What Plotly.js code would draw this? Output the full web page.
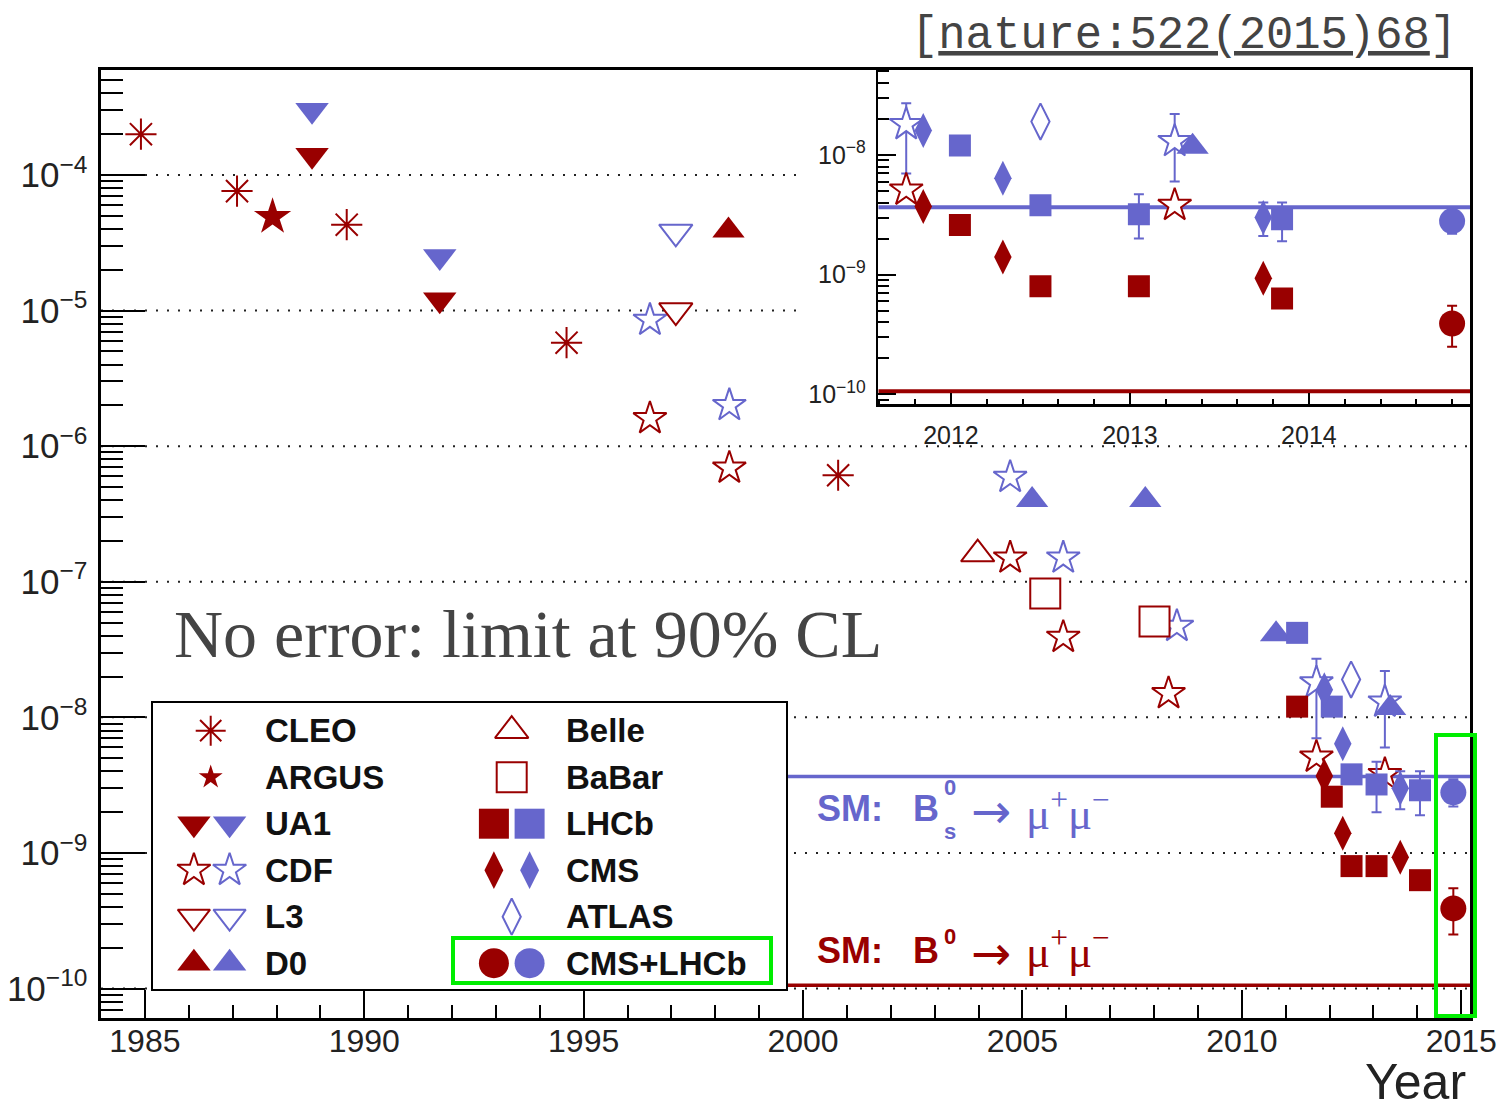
<!DOCTYPE html>
<html>
<head>
<meta charset="utf-8">
<script src="https://cdn.plot.ly/plotly-3.0.1.min.js"></script>
<style>html,body{margin:0;padding:0;background:#fff}#chart{width:1499px;height:1111px}</style>
</head>
<body>
<div id="chart"></div>
<script>
// ---------------- data (years, branching-fraction limits / measurements) ----------------
const cleoYear = [1984.91, 1987.10, 1989.60, 1994.61, 2000.80];
const cleoB0   = [2.0e-4, 7.6e-5, 4.3e-5, 5.8e-6, 6.1e-7];

const argusYear = [1987.91];
const argusB0   = [4.9e-5];

const ua1Year = [1988.81, 1991.72];
const ua1Bs   = [3.0e-4, 2.5e-5];
const ua1B0   = [1.4e-4, 1.2e-5];

const cdfYearBs  = [1996.51, 1998.32, 2004.72, 2005.93, 2008.52, 2011.70, 2013.26];
const cdfBs      = [8.5e-6, 2.0e-6, 5.9e-7, 1.5e-7, 4.7e-8, 1.8e-8, 1.3e-8];
const cdfBsErrUp = [NaN, NaN, NaN, NaN, NaN, 0.9e-8, 0.9e-8];
const cdfBsErrDn = [NaN, NaN, NaN, NaN, NaN, 1.1e-8, 0.7e-8];
const cdfYearB0  = [1996.51, 1998.32, 2004.72, 2005.93, 2008.33, 2011.70, 2013.26];
const cdfB0      = [1.6e-6, 6.9e-7, 1.5e-7, 3.9e-8, 1.5e-8, 5.1e-9, 3.8e-9];

const l3Year = [1997.10];
const l3Bs   = [3.8e-5];
const l3B0   = [1.0e-5];

const d0YearB0 = [1998.30];
const d0B0     = [3.9e-5];
const d0YearBs = [2005.22, 2007.80, 2010.78, 2013.38];
const d0Bs     = [4.0e-7, 4.0e-7, 4.1e-8, 1.17e-8];

const belleYear = [2003.98];
const belleB0   = [1.6e-7];

const babarYear = [2005.52, 2008.01];
const babarB0   = [8.2e-8, 5.1e-8];

const lhcbYear    = [2011.26, 2012.05, 2012.50, 2013.07, 2014.06];
const lhcbBs      = [4.2e-8, 1.2e-8, 3.8e-9, 3.2e-9, 2.9e-9];
const lhcbBsErrUp = [NaN, NaN, NaN, 1.5e-9, 1.1e-9];
const lhcbBsErrDn = [NaN, NaN, NaN, 1.2e-9, 1.0e-9];
const lhcbB0      = [1.2e-8, 2.6e-9, 8.0e-10, 8.0e-10, 6.3e-10];

const cmsYear    = [2011.88, 2012.30, 2013.61];
const cmsBs      = [1.6e-8, 6.4e-9, 3.0e-9];
const cmsBsErrUp = [NaN, NaN, 1.0e-9];
const cmsBsErrDn = [NaN, NaN, 0.9e-9];
const cmsB0      = [3.7e-9, 1.4e-9, 9.3e-10];

const atlasYear = [2012.49];
const atlasBs   = [1.9e-8];

const combYear    = [2014.82];
const combBs      = [2.8e-9];
const combBsErrUp = [0.7e-9];
const combBsErrDn = [0.6e-9];
const combB0      = [3.9e-10];
const combB0ErrUp = [1.6e-10];
const combB0ErrDn = [1.4e-10];

// dates used in the zoomed inset (late 2011 onwards)
const insetCdfYear   = [2011.75, 2013.25];
const insetD0Year    = [2013.35];
const insetLhcbYear  = [2012.05, 2012.50, 2013.05, 2013.85];
const insetCmsYear   = [2011.845, 2012.29, 2013.745];
const insetAtlasYear = [2012.50];
const insetCombYear  = [2014.80];

// Standard Model predictions
const smBs = 3.66e-9;
const smB0 = 1.06e-10;

// legend
const legendLabels = ['CLEO','ARGUS','UA1','CDF','L3','D0','Belle','BaBar','LHCb','CMS','ATLAS','CMS+LHCb'];
const legendKeys   = ['cleo','argus','ua1','cdf','l3','d0','belle','babar','lhcb','cms','atlas','comb'];

// ---------------- styles / geometry ----------------
const W = 1499, H = 1111;
const RED = '#990000', BLUE = '#6666cc', GREEN = '#00ee00';
const legendColors = [[RED],[RED],[RED,BLUE],[RED,BLUE],[RED,BLUE],[RED,BLUE],[RED],[RED],[RED,BLUE],[RED,BLUE],[BLUE],[RED,BLUE]];

const ST = {
  cleo:  {sym:'asterisk-open', size:26, lsize:25},
  argus: {sym:'star', size:28, lsize:18},
  ua1:   {sym:'triangle-down', size:29, lsize:29},
  cdf:   {sym:'star', open:true, size:25, lsize:25},
  l3:    {sym:'triangle-down', open:true, size:29, lsize:28},
  d0:    {sym:'triangle-up', size:28, lsize:29},
  belle: {sym:'triangle-up', open:true, size:29, lsize:29},
  babar: {sym:'square', open:true, size:30, lsize:30},
  lhcb:  {sym:'square', size:22, lsize:30},
  cms:   {sym:'diamond-tall', size:25, lsize:27},
  atlas: {sym:'diamond-tall', open:true, size:26, lsize:26},
  comb:  {sym:'circle', size:26, lsize:30}
};

const MAIN  = {l:101, r:1470, t:70, b:1018, xRange:[1984.0, 2015.2], yRange:[-10.217, -3.226]};
const INSET = {l:878.3, r:1470, t:70, b:404.3, xRange:[2011.594, 2014.9], yRange:[-10.084, -7.29]};
const LEG   = {l:153, r:786, t:702.7, b:989};
const INSET_PAD_LEFT = 797;
const LEGX = [{single:210.7, pair:[193.9, 229.6], text:265.3},
              {single:511.7, pair:[493.9, 529.6], text:566.3}];
const LEG_ROW0 = 730.7, LEG_DY = 46.5;

const fx = p => p / W;
const fy = p => 1 - p / H;
const yearAtPx = p => MAIN.xRange[0] + (p - MAIN.l) / (MAIN.r - MAIN.l) * (MAIN.xRange[1] - MAIN.xRange[0]);

function mk(x, y, key, color, xa, ya, size, errUp, errDn) {
  const s = ST[key];
  let marker;
  if (s.sym === 'asterisk-open') {
    marker = {symbol:'asterisk-open', size:size, color:color, line:{color:color, width:2}};
  } else {
    marker = {symbol:s.sym, size:size, color:s.open ? '#ffffff' : color,
              line:{color:color, width:s.open ? 2 : 0}};
  }
  const t = {type:'scatter', mode:'markers', x:x, y:y, xaxis:xa, yaxis:ya,
             hoverinfo:'skip', marker:marker, showlegend:false};
  if (errUp) t.error_y = {type:'data', symmetric:false, array:errUp, arrayminus:errDn,
                          color:color, thickness:2, width:5};
  return t;
}

const traces = [];
// main panel
(function () {
  const xa = 'x', ya = 'y';
  const S = k => ST[k].size;
  traces.push(mk(cleoYear, cleoB0, 'cleo', RED, xa, ya, S('cleo')));
  traces.push(mk(argusYear, argusB0, 'argus', RED, xa, ya, S('argus')));
  traces.push(mk(ua1Year, ua1Bs, 'ua1', BLUE, xa, ya, S('ua1')));
  traces.push(mk(ua1Year, ua1B0, 'ua1', RED, xa, ya, S('ua1')));
  traces.push(mk(cdfYearBs, cdfBs, 'cdf', BLUE, xa, ya, S('cdf'), cdfBsErrUp, cdfBsErrDn));
  traces.push(mk(cdfYearB0, cdfB0, 'cdf', RED, xa, ya, S('cdf')));
  traces.push(mk(l3Year, l3Bs, 'l3', BLUE, xa, ya, S('l3')));
  traces.push(mk(l3Year, l3B0, 'l3', RED, xa, ya, S('l3')));
  traces.push(mk(d0YearB0, d0B0, 'd0', RED, xa, ya, S('d0')));
  traces.push(mk(d0YearBs, d0Bs, 'd0', BLUE, xa, ya, S('d0')));
  traces.push(mk(belleYear, belleB0, 'belle', RED, xa, ya, S('belle')));
  traces.push(mk(babarYear, babarB0, 'babar', RED, xa, ya, S('babar')));
  traces.push(mk(lhcbYear, lhcbBs, 'lhcb', BLUE, xa, ya, S('lhcb'), lhcbBsErrUp, lhcbBsErrDn));
  traces.push(mk(lhcbYear, lhcbB0, 'lhcb', RED, xa, ya, S('lhcb')));
  traces.push(mk(cmsYear, cmsBs, 'cms', BLUE, xa, ya, S('cms'), cmsBsErrUp, cmsBsErrDn));
  traces.push(mk(cmsYear, cmsB0, 'cms', RED, xa, ya, S('cms')));
  traces.push(mk(atlasYear, atlasBs, 'atlas', BLUE, xa, ya, S('atlas')));
  traces.push(mk(combYear, combBs, 'comb', BLUE, xa, ya, S('comb'), combBsErrUp, combBsErrDn));
  traces.push(mk(combYear, combB0, 'comb', RED, xa, ya, S('comb'), combB0ErrUp, combB0ErrDn));
})();

// inset panel
(function () {
  const xa = 'x2', ya = 'y2';
  const S = k => ST[k].size;
  const n = insetCdfYear.length, m = insetLhcbYear.length;
  traces.push(mk(insetCdfYear, cdfBs.slice(-n), 'cdf', BLUE, xa, ya, S('cdf'), cdfBsErrUp.slice(-n), cdfBsErrDn.slice(-n)));
  traces.push(mk(insetCdfYear, cdfB0.slice(-n), 'cdf', RED, xa, ya, S('cdf')));
  traces.push(mk(insetD0Year, d0Bs.slice(-insetD0Year.length), 'd0', BLUE, xa, ya, S('d0')));
  traces.push(mk(insetLhcbYear, lhcbBs.slice(-m), 'lhcb', BLUE, xa, ya, S('lhcb'), lhcbBsErrUp.slice(-m), lhcbBsErrDn.slice(-m)));
  traces.push(mk(insetLhcbYear, lhcbB0.slice(-m), 'lhcb', RED, xa, ya, S('lhcb')));
  traces.push(mk(insetCmsYear, cmsBs, 'cms', BLUE, xa, ya, S('cms'), cmsBsErrUp, cmsBsErrDn));
  traces.push(mk(insetCmsYear, cmsB0, 'cms', RED, xa, ya, S('cms')));
  traces.push(mk(insetAtlasYear, atlasBs, 'atlas', BLUE, xa, ya, S('atlas')));
  traces.push(mk(insetCombYear, combBs, 'comb', BLUE, xa, ya, S('comb'), combBsErrUp, combBsErrDn));
  traces.push(mk(insetCombYear, combB0, 'comb', RED, xa, ya, S('comb'), combB0ErrUp, combB0ErrDn));
})();

const SANS = 'Liberation Sans, Arial, Helvetica, sans-serif';
const SERIF = 'Liberation Serif, Times New Roman, serif';
const MONO = 'Liberation Mono, Courier New, monospace';

const annotations = [];
// legend
legendKeys.forEach((k, i) => {
  const col = i < 6 ? 0 : 1, row = i % 6;
  const yy = LEG_ROW0 + LEG_DY * row;
  const cols = legendColors[i];
  cols.forEach((c, j) => {
    const xx = cols.length === 1 ? LEGX[col].single : LEGX[col].pair[j];
    traces.push(mk([xx], [yy], k, c, 'x3', 'y3', ST[k].lsize));
  });
  annotations.push({xref:'x3', yref:'y3', x:LEGX[col].text - 2, y:yy, text:legendLabels[i],
    showarrow:false, xanchor:'left', yanchor:'middle',
    font:{family:SANS, size:33, color:'#111', weight:'bold'}});
});

// texts
function ann(x, y, text, font, xanchor) {
  annotations.push({xref:'paper', yref:'paper', x:fx(x), y:fy(y), text:text, showarrow:false,
    xanchor:xanchor || 'left', yanchor:'middle', font:font});
}
ann(1184, 36, '[<u>nature:522(2015)68</u>]', {family:MONO, size:45.5, color:'#444'}, 'center');
ann(172, 634, 'No error: limit at 90% CL', {family:SERIF, size:68, color:'#444'});
ann(1468, 1082, 'Year', {family:SANS, size:50, color:'#222'}, 'right');

const smLabels = [
  {color:BLUE, y:808.5, supY:787.7, sub:'s', subY:831, arrowY:811, muY:810},
  {color:RED,  y:950.5, supY:936,   sub:null, arrowY:953, muY:948.5}
];
smLabels.forEach(s => {
  const bf = {family:SANS, size:36, color:s.color, weight:'bold'};
  const sf = {family:SANS, size:22, color:s.color, weight:'bold'};
  ann(815, s.y, 'SM:', bf);
  ann(911, s.y, 'B', bf);
  ann(942, s.supY, '0', sf);
  if (s.sub) ann(942, s.subY, s.sub, sf);
  ann(969, s.arrowY, '\u2192', {family:'DejaVu Sans, sans-serif', size:48, color:s.color});
  ann(1024, s.muY, '\u03bc<sup>+</sup>\u03bc<sup>\u2212</sup>', {family:SERIF, size:45, color:s.color});
});

// shapes: grid lines, SM lines, highlight boxes
const shapes = [];
const gridDecades = [-4, -5, -6, -7, -8, -9, -10];
gridDecades.forEach(d => {
  shapes.push({type:'line', xref:'x', yref:'y', layer:'below',
    x0:MAIN.xRange[0], x1:(d >= -5 ? yearAtPx(INSET_PAD_LEFT) : MAIN.xRange[1]),
    y0:Math.pow(10, d), y1:Math.pow(10, d),
    line:{color:'#222', width:2, dash:'2px,9px'}});
});
[[smBs, BLUE], [smB0, RED]].forEach(([v, c]) => {
  shapes.push({type:'line', xref:'x', yref:'y', layer:'below',
    x0:yearAtPx(LEG.r), x1:MAIN.xRange[1], y0:v, y1:v, line:{color:c, width:3.5}});
  shapes.push({type:'line', xref:'x2', yref:'y2', layer:'below',
    x0:INSET.xRange[0], x1:INSET.xRange[1], y0:v, y1:v, line:{color:c, width:4}});
});
shapes.push({type:'rect', xref:'paper', yref:'paper', layer:'above',
  x0:fx(453), x1:fx(771), y0:fy(983), y1:fy(938), line:{color:GREEN, width:4}, fillcolor:'rgba(0,0,0,0)'});
shapes.push({type:'rect', xref:'paper', yref:'paper', layer:'above',
  x0:fx(1436), x1:fx(1475), y0:fy(1016), y1:fy(735), line:{color:GREEN, width:4}, fillcolor:'rgba(0,0,0,0)'});

const tickFontMain = {family:SANS, color:'#222'};
const layout = {
  width:W, height:H, margin:{l:0, r:0, t:0, b:0},
  paper_bgcolor:'#ffffff', plot_bgcolor:'rgb(255,255,255)',
  showlegend:false, hovermode:false,
  xaxis:{domain:[fx(MAIN.l), fx(MAIN.r)], range:MAIN.xRange, anchor:'y',
    showline:true, mirror:true, linecolor:'#000', linewidth:3,
    ticks:'inside', ticklen:28, tickwidth:2, tickcolor:'#000', dtick:5, tick0:1985,
    minor:{ticks:'inside', ticklen:13, tickwidth:2, tickcolor:'#000', dtick:1, tick0:1985, showgrid:false},
    showgrid:false, zeroline:false, tickfont:Object.assign({size:32}, tickFontMain), ticklabelstandoff:-7},
  yaxis:{type:'log', domain:[fy(MAIN.b), fy(MAIN.t)], range:MAIN.yRange, anchor:'x',
    showline:true, mirror:true, linecolor:'#000', linewidth:3,
    ticks:'inside', ticklen:44, tickwidth:2, tickcolor:'#000', dtick:1, exponentformat:'power',
    minor:{ticks:'inside', ticklen:22, tickwidth:2, tickcolor:'#000', dtick:'D1', showgrid:false},
    showgrid:false, zeroline:false, tickfont:Object.assign({size:28}, tickFontMain), ticklabelstandoff:5},
  xaxis2:{domain:[fx(INSET.l), fx(INSET.r)], range:INSET.xRange, anchor:'y2',
    showline:true, mirror:true, linecolor:'#000', linewidth:2.5,
    ticks:'inside', ticklen:11, tickwidth:2, tickcolor:'#000', dtick:1, tick0:2012,
    minor:{ticks:'inside', ticklen:5, tickwidth:2, tickcolor:'#000', dtick:0.2, tick0:2012, showgrid:false},
    showgrid:false, zeroline:false, tickfont:Object.assign({size:25}, tickFontMain), ticklabelstandoff:7},
  yaxis2:{type:'log', domain:[fy(INSET.b), fy(INSET.t)], range:INSET.yRange, anchor:'x2',
    showline:true, mirror:true, linecolor:'#000', linewidth:2.5,
    ticks:'inside', ticklen:18, tickwidth:2, tickcolor:'#000', dtick:1, exponentformat:'power',
    minor:{ticks:'inside', ticklen:11, tickwidth:2, tickcolor:'#000', dtick:'D1', showgrid:false},
    showgrid:false, zeroline:false, tickfont:Object.assign({size:20}, tickFontMain), ticklabelstandoff:6},
  xaxis3:{domain:[fx(LEG.l), fx(LEG.r)], range:[LEG.l, LEG.r], anchor:'y3',
    showline:true, mirror:true, linecolor:'#000', linewidth:2, showticklabels:false, ticks:'',
    showgrid:false, zeroline:false, fixedrange:true},
  yaxis3:{domain:[fy(LEG.b), fy(LEG.t)], range:[LEG.b, LEG.t], anchor:'x3',
    showline:true, mirror:true, linecolor:'#000', linewidth:2, showticklabels:false, ticks:'',
    showgrid:false, zeroline:false, fixedrange:true},
  shapes:shapes,
  annotations:annotations
};

Plotly.newPlot('chart', traces, layout, {staticPlot:true, displayModeBar:false});
</script>
</body>
</html>
